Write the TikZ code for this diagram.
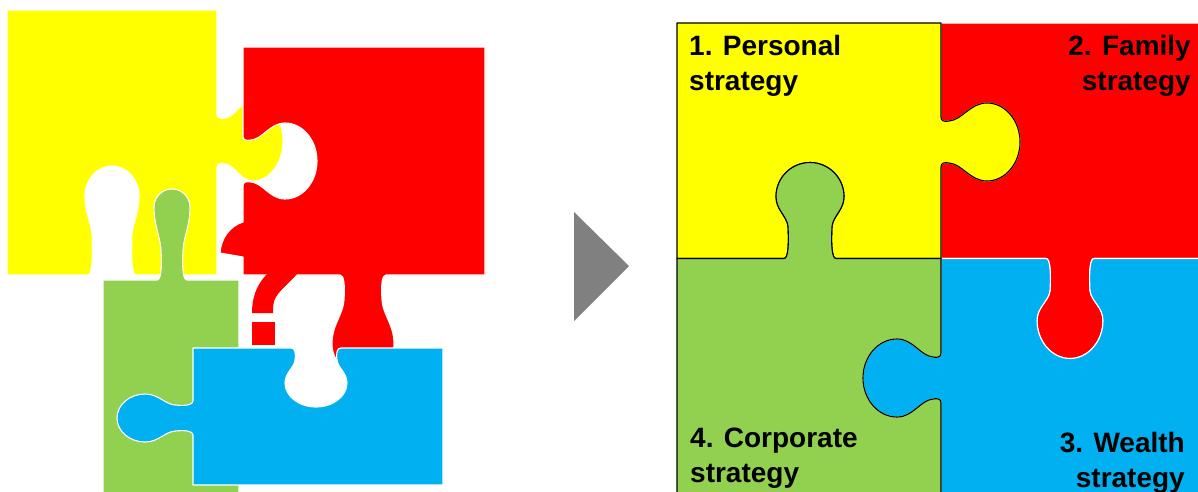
\documentclass[tikz,border=0pt]{standalone}
\usepackage{fontspec}
\setmainfont{Liberation Sans}
\definecolor{cyel}{RGB}{255,255,0}
\definecolor{cred}{RGB}{255,0,0}
\definecolor{cgrn}{RGB}{146,208,80}
\definecolor{cblu}{RGB}{0,176,240}
\definecolor{cgry}{RGB}{128,128,128}
% point of a jigsaw tab in local frame (a along edge, b outward)
\newcommand\PX[2]{(\jX+(#1)*(\jux)+(#2)*(\js)*(\juy))}
\newcommand\PY[2]{(\jY+(#1)*(\juy)-(#2)*(\js)*(\jux))}
\newcommand\jtab[5]{\pgfextra{\gdef\jX{#1}\gdef\jY{#2}\gdef\jux{#3}\gdef\juy{#4}\gdef\js{#5}}\jtabB}
\newcommand\jtabB[5]{\pgfextra{\gdef\jn{#1}\gdef\jN{#2}\gdef\jr{#3}\gdef\jh{#4}\gdef\jL{#5}\gdef\jM{(#5-#4)}\gdef\jD{(#5-#4-#2)}}\jtabC}
\newcommand\jtabC{%
 -- ({\PX{-\jn-4}{0}},{\PY{-\jn-4}{0}})
 .. controls ({\PX{-\jn}{0}},{\PY{-\jn}{0}}) and ({\PX{-\jn+1}{0.4*\jN}},{\PY{-\jn+1}{0.4*\jN}}) .. ({\PX{-\jn}{\jN}},{\PY{-\jn}{\jN}})
 .. controls ({\PX{-\jn-1}{\jN+0.35*\jD}},{\PY{-\jn-1}{\jN+0.35*\jD}}) and ({\PX{-\jr}{\jM-0.45*\jD}},{\PY{-\jr}{\jM-0.45*\jD}}) .. ({\PX{-\jr}{\jM}},{\PY{-\jr}{\jM}})
 .. controls ({\PX{-\jr}{\jM+0.55*\jh}},{\PY{-\jr}{\jM+0.55*\jh}}) and ({\PX{-0.55*\jr}{\jL}},{\PY{-0.55*\jr}{\jL}}) .. ({\PX{0}{\jL}},{\PY{0}{\jL}})
 .. controls ({\PX{0.55*\jr}{\jL}},{\PY{0.55*\jr}{\jL}}) and ({\PX{\jr}{\jM+0.55*\jh}},{\PY{\jr}{\jM+0.55*\jh}}) .. ({\PX{\jr}{\jM}},{\PY{\jr}{\jM}})
 .. controls ({\PX{\jr}{\jM-0.45*\jD}},{\PY{\jr}{\jM-0.45*\jD}}) and ({\PX{\jn+1}{\jN+0.35*\jD}},{\PY{\jn+1}{\jN+0.35*\jD}}) .. ({\PX{\jn}{\jN}},{\PY{\jn}{\jN}})
 .. controls ({\PX{\jn-1}{0.4*\jN}},{\PY{\jn-1}{0.4*\jN}}) and ({\PX{\jn}{0}},{\PY{\jn}{0}}) .. ({\PX{\jn+4}{0}},{\PY{\jn+4}{0}})
}
\tikzset{
  wpiece/.style={draw=white, line width=1.1pt, line join=round},
  bpiece/.style={draw=black, line width=1.1pt, line join=round},
  lbl/.style={inner sep=0pt, text=black, font=\fontsize{28}{34}\selectfont\bfseries}
}
\begin{document}
\begin{tikzpicture}[x=1pt,y=-1pt]
\useasboundingbox (0,0) rectangle (1198,491);
\clip (0,0) rectangle (1198,491);
% ---------- left: scattered pieces ----------
\path[wpiece, fill=cyel] (7,10) -- (217,10)
  \jtab{217}{141}{0}{1}{1}{23}{8}{40}{30}{66}
  -- (217,275)
  \jtab{112}{275}{-1}{0}{-1}{20}{40}{27}{30}{109}
  -- (7,275) -- cycle;
\path[wpiece, fill=cred] (243,47) -- (485,47) -- (485,275)
  \jtab{363}{275}{-1}{0}{1}{19}{25}{31}{31}{100}
  -- (243,275) -- (243,257) -- (220,253)
  .. controls (221,238) and (230,226) .. (243,222)
  \jtab{243}{161}{0}{-1}{-1}{21}{8}{38}{32}{74}
  -- cycle;
\fill[cred] (268,273) -- (298,273) .. controls (290,282) and (280,290) .. (276,297)
  .. controls (273,302) and (273,306) .. (273,313) -- (252,313)
  .. controls (252,300) and (255,286) .. (268,273) -- cycle;
\fill[cred] (252,322) rectangle (275,345);
\path[wpiece, fill=cgrn] (103,280)
  \jtab{172}{280}{1}{0}{1}{11}{30}{18}{18}{91}
  -- (239,280) -- (239,505) -- (103,505) -- cycle;
\path[wpiece, fill=cblu] (193,348)
  \jtab{316}{348}{1}{0}{-1}{21}{12}{31}{24}{59}
  -- (443,348) -- (443,485) -- (193,485)
  \jtab{193}{418}{0}{-1}{1}{13}{18}{24}{28}{76}
  -- cycle;
% ---------- arrow ----------
\fill[cgry] (574,212) -- (629,266) -- (574,321) -- cycle;
% ---------- right: assembled puzzle ----------
\path[wpiece, fill=cred] (941,23) -- (1215,23) -- (1215,258.5)
  \jtab{1070}{258.5}{-1}{0}{1}{20}{32}{33}{38}{100}
  -- (941,258.5)
  \jtab{941}{142}{0}{-1}{-1}{21}{8}{39}{33}{79}
  -- cycle;
\path[wpiece, fill=cblu] (941,258.5)
  \jtab{1070}{258.5}{1}{0}{-1}{20}{32}{33}{38}{100}
  -- (1215,258.5) -- (1215,505) -- (941,505)
  \jtab{941}{378}{0}{-1}{1}{21}{8}{39}{34}{78}
  -- cycle;
\path[bpiece, fill=cyel] (677,23) -- (941,23)
  \jtab{941}{142}{0}{1}{1}{21}{8}{39}{33}{79}
  -- (941,258.5)
  \jtab{810}{258.5}{-1}{0}{-1}{22}{32}{34}{34}{96}
  -- (677,258.5) -- cycle;
\path[bpiece, fill=cgrn] (677,258.5)
  \jtab{810}{258.5}{1}{0}{1}{22}{32}{34}{34}{96}
  -- (941,258.5)
  \jtab{941}{378}{0}{1}{-1}{21}{8}{39}{34}{78}
  -- (941,505) -- (677,505) -- cycle;
% ---------- labels ----------
\node[lbl, anchor=base west] (t1a) at (689,55) {1. Personal};
\node[lbl, anchor=base west] (t1b) at (689,90) {strategy};
\node[lbl, anchor=base east] (t2a) at (1191,55) {2. Family};
\node[lbl, anchor=base east] (t2b) at (1191,90) {strategy};
\node[lbl, anchor=base east] (t3a) at (1185,452) {3. Wealth};
\node[lbl, anchor=base east] (t3b) at (1185,487) {strategy};
\node[lbl, anchor=base west] (t4a) at (690,447) {4. Corporate};
\node[lbl, anchor=base west] (t4b) at (690,482) {strategy};
\end{tikzpicture}
\end{document}
